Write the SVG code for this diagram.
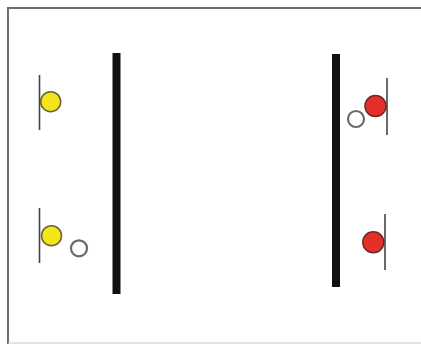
<svg xmlns="http://www.w3.org/2000/svg" width="421" height="344" viewBox="0 0 421 344">
<style>
.frame{fill:#fff;stroke:#6e6e6e;stroke-width:2}
.bar{fill:#111}
.post{stroke:#444;stroke-width:1.6}
.yel{fill:#f2e61a;stroke:#6b6330;stroke-width:1.5}
.red{fill:#e5302a;stroke:#6a2a28;stroke-width:1.5}
.hol{fill:#fff;stroke:#6a6a6a;stroke-width:2.2}
</style>
<rect class="frame" x="8" y="8" width="420" height="342"/>
<line x1="8" y1="343" x2="421" y2="343" stroke="#c8c8c8" stroke-width="1"/>
<rect class="bar" x="112.5" y="53" width="8" height="241"/>
<rect class="bar" x="332" y="54" width="8" height="233"/>
<g id="yellow-top">
<line class="post" x1="39.5" y1="75" x2="39.5" y2="130"/>
<circle class="yel" cx="50.7" cy="101.7" r="10"/>
</g>
<g id="yellow-bottom">
<line class="post" x1="39.5" y1="208" x2="39.5" y2="263"/>
<circle class="yel" cx="51.5" cy="235.7" r="10"/>
<circle class="hol" cx="79" cy="248.3" r="8"/>
</g>
<g id="red-top">
<line class="post" x1="387" y1="78" x2="387" y2="135"/>
<circle class="red" cx="375.5" cy="106" r="10.5"/>
<circle class="hol" cx="356" cy="119" r="8"/>
</g>
<g id="red-bottom">
<line class="post" x1="385" y1="214" x2="385" y2="270"/>
<circle class="red" cx="373.3" cy="242.3" r="10.5"/>
</g>
</svg>
